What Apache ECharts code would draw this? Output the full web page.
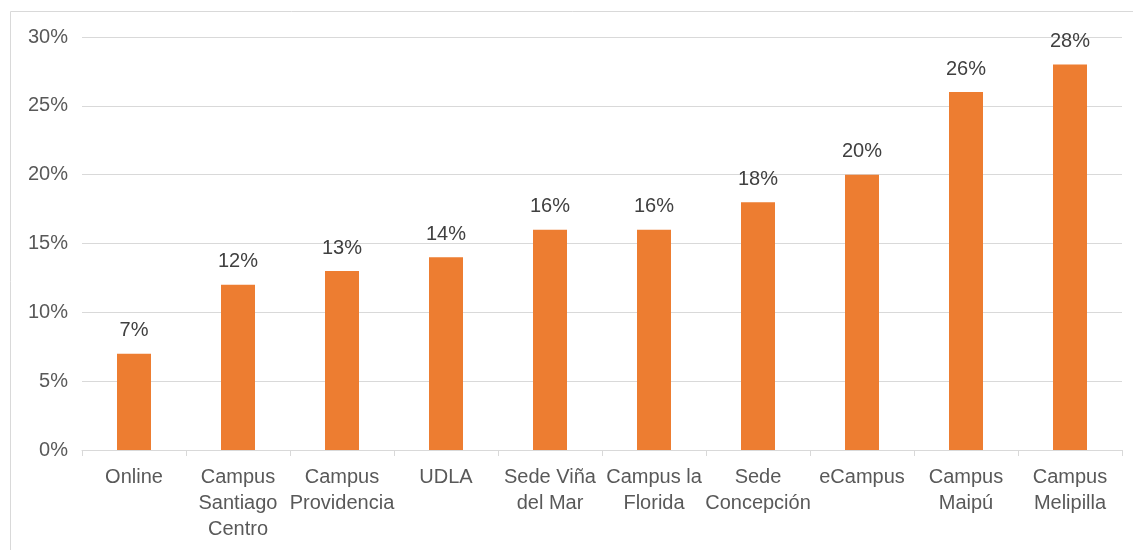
<!DOCTYPE html>
<html><head><meta charset="utf-8">
<script src="https://cdn.jsdelivr.net/npm/echarts@6/dist/echarts.min.js"></script>
<style>html,body{margin:0;padding:0;background:#fff}#c{width:1133px;height:550px}</style>
</head><body><div id="c"></div>
<script>
const categories = ["Online","Campus\nSantiago\nCentro","Campus\nProvidencia","UDLA","Sede Viña\ndel Mar","Campus la\nFlorida","Sede\nConcepción","eCampus","Campus\nMaipú","Campus\nMelipilla"];
const values = [7,12,13,14,16,16,18,20,26,28];
const chart = echarts.init(document.getElementById('c'));
chart.setOption({
  animation:false,
  textStyle:{fontFamily:'Liberation Sans, Arial, sans-serif'},
  graphic:[{type:'rect',shape:{x:10.5,y:11.5,width:1200,height:600},style:{fill:'none',stroke:'#d9d9d9',lineWidth:1},silent:true}],
  grid:{left:82,right:11,top:37,bottom:100,containLabel:false},
  xAxis:{type:'category',data:categories,
    axisLine:{lineStyle:{color:'#d9d9d9',width:1}},
    axisTick:{show:true,length:6,lineStyle:{color:'#d9d9d9'}},
    axisLabel:{color:'#595959',fontSize:20,lineHeight:26,margin:14,interval:0}},
  yAxis:{type:'value',min:0,max:30,interval:5,
    axisLine:{show:false},axisTick:{show:false},
    splitLine:{lineStyle:{color:'#d9d9d9',width:1}},
    axisLabel:{color:'#595959',fontSize:20,margin:14,formatter:'{value}%'}},
  series:[{type:'bar',data:values,barWidth:34,
    itemStyle:{color:'#ED7D31'},
    label:{show:true,position:'top',distance:13,color:'#404040',fontSize:20,formatter:'{c}%'}}]
});
</script></body></html>
